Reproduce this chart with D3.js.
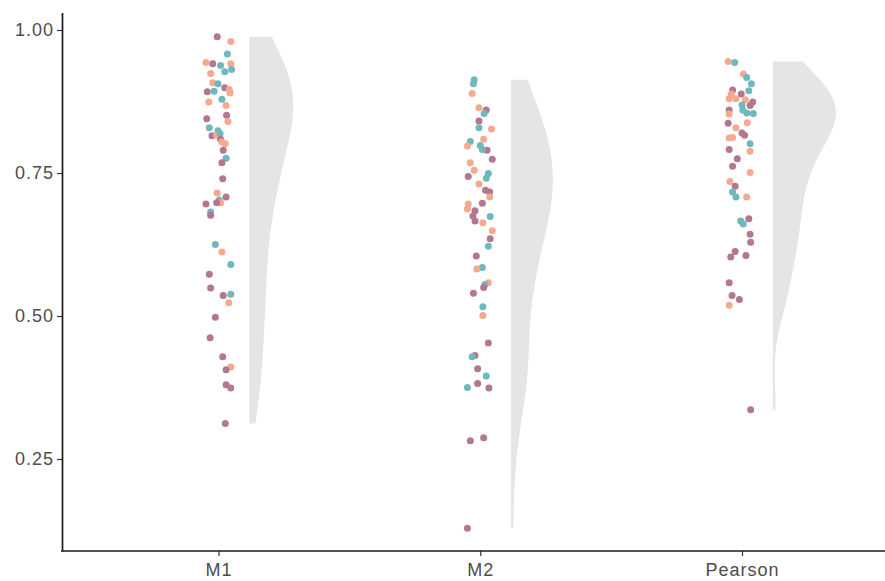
<!DOCTYPE html>
<html>
<head>
<meta charset="utf-8">
<script src="https://cdn.jsdelivr.net/npm/d3@7"></script>
<style>
  body { margin: 0; background: #ffffff; }
  text { font-family: "Liberation Sans", Arial, sans-serif; }
</style>
</head>
<body>
<div id="container"></div>
<script>
// categories on the x axis
var categories = ["M1", "M2", "Pearson"];
var yTicks = [0.25, 0.50, 0.75, 1.00];
// point colour groups: 0 = mauve, 1 = salmon, 2 = teal
var groupColors = ["#b3778f", "#f5aa8f", "#6fb8bd"];

// M1
var m1Values = [0.988,0.980,0.958,0.943,0.941,0.938,0.941,0.927,0.931,0.924,0.908,0.906,0.899,0.896,0.890,0.892,0.893,0.879,0.874,0.868,0.851,0.845,0.840,0.829,0.824,0.815,0.816,0.819,0.809,0.804,0.801,0.790,0.776,0.768,0.740,0.715,0.708,0.703,0.698,0.698,0.696,0.682,0.676,0.625,0.612,0.590,0.573,0.549,0.536,0.538,0.523,0.498,0.462,0.429,0.411,0.406,0.380,0.374,0.312];
var m1Groups = [0,1,2,1,0,2,1,2,2,1,1,2,0,1,1,0,2,2,1,1,0,0,1,2,2,0,1,2,0,1,1,0,2,0,0,1,0,2,1,0,0,2,0,2,1,2,0,0,0,2,1,0,0,0,1,0,0,0,0];
var m1Jitter = [-0.005,0.047,0.034,-0.048,-0.022,0.008,0.047,0.024,0.050,-0.030,-0.022,-0.002,0.024,0.041,0.044,-0.043,-0.017,0.013,-0.037,0.029,0.031,-0.045,0.036,-0.035,-0.002,-0.025,-0.007,0.006,0.008,0.013,0.026,0.018,0.029,0.013,0.016,-0.005,0.029,0.003,0.008,-0.007,-0.048,-0.030,-0.030,-0.012,0.013,0.047,-0.035,-0.030,0.018,0.047,0.039,-0.012,-0.032,0.016,0.047,0.029,0.029,0.047,0.026];

// M2
var m2Values = [0.913,0.906,0.889,0.864,0.860,0.854,0.841,0.829,0.827,0.805,0.809,0.797,0.798,0.790,0.791,0.774,0.768,0.755,0.744,0.749,0.741,0.731,0.720,0.717,0.708,0.697,0.696,0.687,0.684,0.675,0.674,0.663,0.666,0.649,0.635,0.622,0.605,0.585,0.582,0.558,0.555,0.550,0.540,0.516,0.501,0.453,0.431,0.429,0.408,0.395,0.382,0.375,0.374,0.282,0.287,0.129];
var m2Groups = [2,2,1,1,0,2,0,2,1,2,1,1,2,0,2,0,1,1,0,2,2,1,0,0,1,0,1,1,0,0,2,1,0,1,0,2,0,2,1,1,2,0,0,2,1,0,0,2,0,2,0,2,0,0,0,0];
var m2Jitter = [-0.023,-0.026,-0.031,-0.005,0.023,0.015,-0.005,-0.005,0.043,-0.038,0.013,-0.049,0,0.026,0.008,0.046,-0.038,-0.023,-0.046,0.031,0.023,-0.005,0.020,0.036,0.036,0.008,-0.046,-0.049,-0.020,-0.028,0.038,0.010,-0.020,0.046,0.038,0.031,-0.015,0.008,-0.013,0.031,0.018,0.013,-0.026,0.010,0.010,0.031,-0.020,-0.031,-0.010,0.023,-0.010,-0.049,0.033,-0.038,0.013,-0.049];

// Pearson
var pearsonValues = [0.945,0.943,0.923,0.917,0.906,0.894,0.895,0.888,0.888,0.880,0.880,0.874,0.878,0.869,0.868,0.860,0.860,0.853,0.854,0.855,0.838,0.837,0.829,0.820,0.816,0.811,0.812,0.801,0.788,0.791,0.775,0.762,0.751,0.735,0.727,0.717,0.708,0.708,0.666,0.670,0.661,0.643,0.629,0.613,0.603,0.606,0.558,0.536,0.529,0.519,0.336];
var pearsonGroups = [1,2,1,2,2,2,0,0,1,1,1,0,1,2,0,2,0,1,2,2,1,0,1,0,0,1,1,2,1,0,0,0,1,1,0,2,2,1,2,0,2,0,0,0,0,0,0,0,0,1,0];
var pearsonJitter = [-0.053,-0.028,0.005,0.018,0.036,0.026,-0.036,-0.003,-0.041,-0.049,-0.023,0.041,0.013,0,0.031,0.003,-0.049,-0.049,0.043,0.018,0.020,-0.053,-0.023,0,0.010,-0.049,-0.036,0.031,0.031,-0.049,-0.018,-0.036,0.031,-0.046,-0.026,-0.036,-0.023,0.018,-0.005,0.026,0.005,0.031,0.033,-0.026,-0.043,0.015,-0.049,-0.038,-0.010,-0.049,0.033];

var series = [
  {cat: "M1", values: m1Values, groups: m1Groups, jitter: m1Jitter},
  {cat: "M2", values: m2Values, groups: m2Groups, jitter: m2Jitter},
  {cat: "Pearson", values: pearsonValues, groups: pearsonGroups, jitter: pearsonJitter}
];

var width = 885, height = 581;
var axisX = 62, axisBottom = 551, axisTop = 12.5;

var svg = d3.select("#container")
  .append("svg")
    .attr("width", width)
    .attr("height", height);

// scales
var y = d3.scaleLinear()
  .domain([0.0892, 1.0306])
  .range([axisBottom, axisTop]);

var x = d3.scalePoint()
  .domain(categories)
  .range([218.5, 742]);

var nudge = 0.118;   // half violin sits right of the points (category units)

// kernel density, R bw.nrd0 bandwidth, trimmed to the data range
function density(vals) {
  var s = vals.slice().sort(d3.ascending);
  var sd = d3.deviation(s);
  var iqr = d3.quantile(s, 0.75) - d3.quantile(s, 0.25);
  var bw = 0.9 * Math.min(sd, iqr / 1.34) * Math.pow(s.length, -0.2);
  var lo = s[0], hi = s[s.length - 1];
  var out = [];
  for (var i = 0; i < 512; i++) {
    var v = lo + (hi - lo) * i / 511;
    var sum = 0;
    s.forEach(function(d) {
      var u = (v - d) / bw;
      sum += Math.exp(-0.5 * u * u);
    });
    out.push({v: v, d: sum / (s.length * bw * Math.sqrt(2 * Math.PI))});
  }
  return out;
}

series.forEach(function(s) { s.dens = density(s.values); });
var maxDens = d3.max(series, function(s) { return d3.max(s.dens, function(d) { return d.d; }); });

var w = d3.scaleLinear().domain([0, maxDens]).range([0, 63]);

// half violins
series.forEach(function(s) {
  var x0 = x(s.cat) + nudge * x.step();
  var area = d3.area()
    .x0(x0)
    .x1(function(d) { return x0 + w(d.d); })
    .y(function(d) { return y(d.v); });
  svg.append("path")
    .datum(s.dens)
    .attr("d", area)
    .style("fill", "#e5e5e5");
});

// jittered points
series.forEach(function(s) {
  svg.append("g")
    .selectAll("circle")
    .data(s.values)
    .enter()
    .append("circle")
      .attr("cx", function(d, i) { return x(s.cat) + s.jitter[i] * x.step(); })
      .attr("cy", function(d) { return y(d); })
      .attr("r", 3.5)
      .style("fill", function(d, i) { return groupColors[s.groups[i]]; });
});

// Y axis
var yAxis = svg.append("g")
  .attr("transform", "translate(" + axisX + ",0)")
  .call(d3.axisLeft(y).tickValues(yTicks).tickFormat(d3.format(".2f")).tickSize(5).tickSizeOuter(0).tickPadding(3));
yAxis.select(".domain").attr("stroke", "#1a1a1a").attr("stroke-width", 1.7);
yAxis.selectAll(".tick line").attr("stroke", "#333").attr("stroke-width", 1.2);
yAxis.selectAll(".tick text")
  .attr("fill", "#4d4d4d")
  .style("font-size", "18px")
  .style("letter-spacing", "1px");

// X axis
var xAxis = svg.append("g")
  .attr("transform", "translate(0," + axisBottom + ")")
  .call(d3.axisBottom(x).tickSize(5).tickSizeOuter(0).tickPadding(7));
xAxis.select(".domain").remove();
xAxis.selectAll(".tick line").attr("stroke", "#333").attr("stroke-width", 1.2);
xAxis.selectAll(".tick text")
  .attr("fill", "#4d4d4d")
  .style("font-size", "18px")
  .style("letter-spacing", "1px");
svg.append("line")
  .attr("x1", axisX - 0.85).attr("x2", width)
  .attr("y1", axisBottom).attr("y2", axisBottom)
  .attr("stroke", "#1a1a1a").attr("stroke-width", 1.7);
</script>
</body>
</html>
